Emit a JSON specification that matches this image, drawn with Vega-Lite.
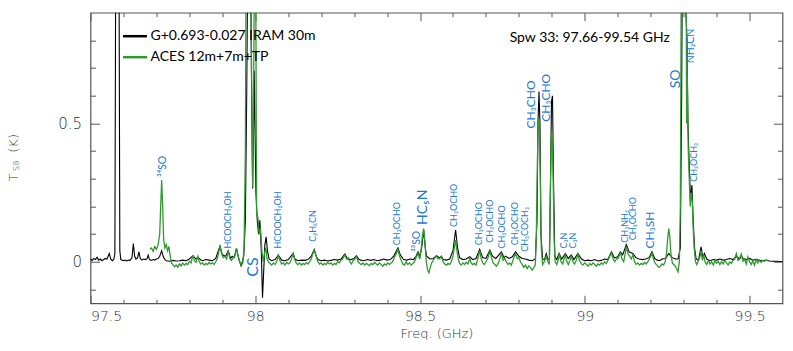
{
  "$schema": "https://vega.github.io/schema/vega-lite/v6.json",
  "width": 692,
  "height": 290.6,
  "autosize": {"type": "none"},
  "padding": {"left": 90.5, "top": 12.7, "right": 10.3, "bottom": 47.7},
  "background": "white",
  "datasets": {
    "iram": [
      {"f":97.500,"t":0.010},{"f":97.505,"t":0.005},{"f":97.510,"t":0.012},{"f":97.515,"t":0.008},{"f":97.520,"t":0.016},{"f":97.525,"t":0.006},{"f":97.530,"t":0.010},{"f":97.535,"t":0.004},{"f":97.540,"t":0.008},{"f":97.545,"t":0.012},{"f":97.550,"t":0.010},{"f":97.557,"t":0.030},{"f":97.562,"t":0.008},{"f":97.567,"t":0.004},{"f":97.571,"t":0.010},{"f":97.574,"t":0.030},{"f":97.577,"t":1.3},{"f":97.586,"t":1.3},{"f":97.589,"t":0.04},{"f":97.592,"t":0.008},{"f":97.600,"t":0.004},{"f":97.605,"t":0.006},{"f":97.610,"t":0.003},{"f":97.615,"t":0.006},{"f":97.620,"t":0.005},{"f":97.626,"t":0.015},{"f":97.630,"t":0.066},{"f":97.634,"t":0.020},{"f":97.638,"t":0.010},{"f":97.643,"t":0.015},{"f":97.647,"t":0.036},{"f":97.651,"t":0.012},{"f":97.656,"t":0.006},{"f":97.661,"t":0.010},{"f":97.667,"t":0.008},{"f":97.672,"t":0.012},{"f":97.675,"t":0.024},{"f":97.679,"t":0.008},{"f":97.685,"t":0.005},{"f":97.690,"t":0.008},{"f":97.695,"t":0.006},{"f":97.700,"t":0.010},{"f":97.705,"t":0.012},{"f":97.710,"t":0.020},{"f":97.716,"t":0.040},{"f":97.721,"t":0.018},{"f":97.726,"t":0.008},{"f":97.730,"t":0.004},{"f":97.740,"t":0.002},{"f":97.750,"t":0.005},{"f":97.760,"t":0.003},{"f":97.770,"t":0.004},{"f":97.780,"t":0.006},{"f":97.790,"t":0.004},{"f":97.800,"t":0.010},{"f":97.811,"t":0.022},{"f":97.820,"t":0.010},{"f":97.826,"t":0.016},{"f":97.835,"t":0.006},{"f":97.840,"t":0.004},{"f":97.850,"t":0.008},{"f":97.860,"t":0.006},{"f":97.870,"t":0.004},{"f":97.880,"t":0.012},{"f":97.893,"t":0.057},{"f":97.900,"t":0.025},{"f":97.910,"t":0.020},{"f":97.918,"t":0.040},{"f":97.925,"t":0.012},{"f":97.930,"t":0.020},{"f":97.936,"t":0.015},{"f":97.943,"t":0.048},{"f":97.950,"t":0.010},{"f":97.957,"t":-0.015},{"f":97.962,"t":0.005},{"f":97.965,"t":0.02},{"f":97.970,"t":0.15},{"f":97.974,"t":0.6},{"f":97.978,"t":1.2},{"f":97.985,"t":1.2},{"f":97.989,"t":0.6},{"f":97.992,"t":0.265},{"f":97.995,"t":0.5},{"f":97.997,"t":0.69},{"f":97.999,"t":0.5},{"f":98.002,"t":0.25},{"f":98.006,"t":0.15},{"f":98.010,"t":0.10},{"f":98.014,"t":0.15},{"f":98.018,"t":0.05},{"f":98.022,"t":-0.13},{"f":98.025,"t":-0.05},{"f":98.029,"t":0.06},{"f":98.033,"t":0.09},{"f":98.037,"t":0.04},{"f":98.042,"t":0.01},{"f":98.050,"t":0.004},{"f":98.060,"t":0.008},{"f":98.070,"t":0.024},{"f":98.080,"t":0.006},{"f":98.090,"t":0.004},{"f":98.100,"t":0.008},{"f":98.115,"t":0.030},{"f":98.120,"t":0.010},{"f":98.130,"t":0.004},{"f":98.140,"t":0.006},{"f":98.150,"t":0.005},{"f":98.160,"t":0.008},{"f":98.170,"t":0.020},{"f":98.179,"t":0.045},{"f":98.185,"t":0.020},{"f":98.190,"t":0.008},{"f":98.200,"t":0.004},{"f":98.210,"t":0.006},{"f":98.220,"t":0.003},{"f":98.230,"t":0.005},{"f":98.240,"t":0.008},{"f":98.250,"t":0.006},{"f":98.260,"t":0.010},{"f":98.272,"t":0.028},{"f":98.280,"t":0.010},{"f":98.290,"t":0.008},{"f":98.300,"t":0.012},{"f":98.307,"t":0.022},{"f":98.315,"t":0.008},{"f":98.320,"t":0.006},{"f":98.330,"t":0.004},{"f":98.340,"t":0.008},{"f":98.350,"t":0.005},{"f":98.360,"t":0.008},{"f":98.370,"t":0.004},{"f":98.380,"t":0.006},{"f":98.390,"t":0.010},{"f":98.400,"t":0.006},{"f":98.410,"t":0.008},{"f":98.420,"t":0.020},{"f":98.433,"t":0.050},{"f":98.440,"t":0.025},{"f":98.450,"t":0.008},{"f":98.460,"t":0.006},{"f":98.470,"t":0.010},{"f":98.480,"t":0.008},{"f":98.488,"t":0.020},{"f":98.494,"t":0.036},{"f":98.500,"t":0.020},{"f":98.505,"t":0.050},{"f":98.511,"t":0.115},{"f":98.516,"t":0.050},{"f":98.520,"t":0.020},{"f":98.530,"t":0.010},{"f":98.540,"t":0.012},{"f":98.550,"t":0.022},{"f":98.560,"t":0.014},{"f":98.565,"t":0.020},{"f":98.570,"t":0.008},{"f":98.580,"t":0.006},{"f":98.590,"t":0.010},{"f":98.600,"t":0.040},{"f":98.608,"t":0.115},{"f":98.614,"t":0.050},{"f":98.620,"t":0.015},{"f":98.630,"t":0.008},{"f":98.640,"t":0.010},{"f":98.651,"t":0.018},{"f":98.660,"t":0.008},{"f":98.670,"t":0.012},{"f":98.681,"t":0.045},{"f":98.690,"t":0.015},{"f":98.700,"t":0.012},{"f":98.712,"t":0.042},{"f":98.720,"t":0.020},{"f":98.730,"t":0.012},{"f":98.747,"t":0.036},{"f":98.755,"t":0.015},{"f":98.760,"t":0.020},{"f":98.770,"t":0.012},{"f":98.780,"t":0.018},{"f":98.790,"t":0.036},{"f":98.800,"t":0.020},{"f":98.810,"t":0.012},{"f":98.820,"t":0.010},{"f":98.830,"t":0.006},{"f":98.840,"t":0.004},{"f":98.850,"t":0.010},{"f":98.855,"t":0.15},{"f":98.858,"t":0.5},{"f":98.861,"t":0.615},{"f":98.864,"t":0.5},{"f":98.867,"t":0.1},{"f":98.872,"t":0.010},{"f":98.878,"t":0.008},{"f":98.883,"t":0.030},{"f":98.888,"t":0.008},{"f":98.893,"t":0.010},{"f":98.896,"t":0.3},{"f":98.899,"t":0.58},{"f":98.902,"t":0.6},{"f":98.905,"t":0.3},{"f":98.909,"t":0.020},{"f":98.915,"t":0.008},{"f":98.922,"t":0.030},{"f":98.930,"t":0.010},{"f":98.941,"t":0.030},{"f":98.950,"t":0.012},{"f":98.959,"t":0.025},{"f":98.967,"t":0.008},{"f":98.979,"t":0.030},{"f":98.990,"t":0.010},{"f":99.000,"t":0.004},{"f":99.010,"t":0.006},{"f":99.020,"t":0.004},{"f":99.030,"t":0.008},{"f":99.040,"t":0.003},{"f":99.050,"t":0.005},{"f":99.060,"t":0.010},{"f":99.070,"t":0.008},{"f":99.081,"t":0.036},{"f":99.090,"t":0.014},{"f":99.100,"t":0.018},{"f":99.108,"t":0.036},{"f":99.115,"t":0.025},{"f":99.126,"t":0.062},{"f":99.135,"t":0.035},{"f":99.146,"t":0.030},{"f":99.155,"t":0.015},{"f":99.165,"t":0.010},{"f":99.175,"t":0.008},{"f":99.185,"t":0.010},{"f":99.195,"t":0.015},{"f":99.204,"t":0.036},{"f":99.212,"t":0.012},{"f":99.220,"t":0.006},{"f":99.227,"t":0.004},{"f":99.235,"t":0.010},{"f":99.245,"t":0.012},{"f":99.255,"t":0.030},{"f":99.265,"t":0.015},{"f":99.275,"t":0.010},{"f":99.283,"t":0.010},{"f":99.290,"t":0.05},{"f":99.294,"t":0.6},{"f":99.297,"t":1.3},{"f":99.304,"t":1.3},{"f":99.307,"t":0.9},{"f":99.310,"t":0.81},{"f":99.313,"t":0.5},{"f":99.317,"t":0.35},{"f":99.321,"t":0.22},{"f":99.325,"t":0.277},{"f":99.329,"t":0.15},{"f":99.333,"t":0.05},{"f":99.338,"t":0.010},{"f":99.345,"t":0.005},{"f":99.353,"t":0.054},{"f":99.358,"t":0.015},{"f":99.363,"t":0.030},{"f":99.370,"t":0.010},{"f":99.380,"t":0.004},{"f":99.390,"t":0.008},{"f":99.400,"t":0.006},{"f":99.410,"t":0.010},{"f":99.420,"t":0.006},{"f":99.430,"t":0.008},{"f":99.440,"t":0.012},{"f":99.450,"t":0.008},{"f":99.460,"t":0.020},{"f":99.470,"t":0.010},{"f":99.475,"t":0.022},{"f":99.480,"t":0.012},{"f":99.490,"t":0.008},{"f":99.500,"t":0.012},{"f":99.510,"t":0.006},{"f":99.520,"t":0.008},{"f":99.530,"t":0.005},{"f":99.540,"t":0.004},{"f":99.550,"t":0.006},{"f":99.560,"t":0.003},{"f":99.570,"t":0.002},{"f":99.580,"t":0.002},{"f":99.590,"t":0.001},{"f":99.600,"t":0.001}
    ],
    "aces": [
      {"f":97.680,"t":0.045},{"f":97.685,"t":0.050},{"f":97.690,"t":0.038},{"f":97.695,"t":0.055},{"f":97.700,"t":0.045},{"f":97.705,"t":0.060},{"f":97.710,"t":0.10},{"f":97.713,"t":0.20},{"f":97.716,"t":0.295},{"f":97.719,"t":0.20},{"f":97.722,"t":0.08},{"f":97.726,"t":0.050},{"f":97.730,"t":0.062},{"f":97.734,"t":0.040},{"f":97.738,"t":0.055},{"f":97.742,"t":0.020},{"f":97.746,"t":-0.005},{"f":97.750,"t":-0.010},{"f":97.755,"t":-0.018},{"f":97.760,"t":-0.012},{"f":97.765,"t":-0.020},{"f":97.770,"t":-0.008},{"f":97.775,"t":-0.015},{"f":97.780,"t":-0.005},{"f":97.785,"t":-0.012},{"f":97.790,"t":-0.006},{"f":97.795,"t":-0.010},{"f":97.800,"t":0.002},{"f":97.805,"t":-0.004},{"f":97.811,"t":0.024},{"f":97.815,"t":0.005},{"f":97.820,"t":-0.002},{"f":97.826,"t":0.020},{"f":97.830,"t":0.000},{"f":97.835,"t":-0.008},{"f":97.840,"t":-0.004},{"f":97.845,"t":-0.012},{"f":97.850,"t":-0.006},{"f":97.855,"t":-0.010},{"f":97.860,"t":-0.002},{"f":97.865,"t":-0.008},{"f":97.870,"t":-0.004},{"f":97.875,"t":-0.010},{"f":97.880,"t":0.000},{"f":97.885,"t":0.012},{"f":97.893,"t":0.057},{"f":97.898,"t":0.030},{"f":97.903,"t":0.015},{"f":97.908,"t":0.020},{"f":97.913,"t":0.010},{"f":97.918,"t":0.040},{"f":97.923,"t":0.012},{"f":97.928,"t":0.005},{"f":97.933,"t":0.015},{"f":97.938,"t":0.020},{"f":97.943,"t":0.048},{"f":97.948,"t":0.020},{"f":97.953,"t":0.000},{"f":97.958,"t":-0.012},{"f":97.962,"t":-0.005},{"f":97.966,"t":0.05},{"f":97.970,"t":0.4},{"f":97.973,"t":1.3},{"f":97.984,"t":1.3},{"f":97.988,"t":0.8},{"f":97.992,"t":0.27},{"f":97.995,"t":0.6},{"f":97.998,"t":1.2},{"f":98.001,"t":1.2},{"f":98.004,"t":0.18},{"f":98.008,"t":0.16},{"f":98.012,"t":0.10},{"f":98.016,"t":0.12},{"f":98.020,"t":0.04},{"f":98.024,"t":0.0},{"f":98.028,"t":0.03},{"f":98.032,"t":0.05},{"f":98.036,"t":0.01},{"f":98.040,"t":0.000},{"f":98.045,"t":-0.006},{"f":98.050,"t":-0.012},{"f":98.055,"t":-0.004},{"f":98.060,"t":-0.010},{"f":98.065,"t":0.000},{"f":98.070,"t":0.024},{"f":98.075,"t":0.005},{"f":98.080,"t":-0.008},{"f":98.085,"t":-0.004},{"f":98.090,"t":-0.012},{"f":98.095,"t":-0.002},{"f":98.100,"t":-0.008},{"f":98.105,"t":-0.004},{"f":98.110,"t":0.010},{"f":98.115,"t":0.030},{"f":98.120,"t":0.008},{"f":98.125,"t":-0.006},{"f":98.130,"t":-0.010},{"f":98.135,"t":-0.004},{"f":98.140,"t":-0.012},{"f":98.145,"t":-0.006},{"f":98.150,"t":-0.010},{"f":98.155,"t":-0.003},{"f":98.160,"t":-0.008},{"f":98.165,"t":0.000},{"f":98.170,"t":0.010},{"f":98.175,"t":0.030},{"f":98.179,"t":0.042},{"f":98.185,"t":0.020},{"f":98.190,"t":0.000},{"f":98.195,"t":-0.008},{"f":98.200,"t":-0.004},{"f":98.205,"t":-0.012},{"f":98.210,"t":-0.006},{"f":98.215,"t":-0.010},{"f":98.220,"t":-0.002},{"f":98.225,"t":-0.008},{"f":98.230,"t":-0.004},{"f":98.235,"t":-0.012},{"f":98.240,"t":-0.006},{"f":98.245,"t":-0.010},{"f":98.250,"t":0.000},{"f":98.255,"t":-0.004},{"f":98.260,"t":0.005},{"f":98.265,"t":0.010},{"f":98.272,"t":0.025},{"f":98.277,"t":0.010},{"f":98.282,"t":0.015},{"f":98.287,"t":0.000},{"f":98.292,"t":-0.008},{"f":98.297,"t":0.004},{"f":98.302,"t":0.010},{"f":98.307,"t":0.020},{"f":98.312,"t":0.000},{"f":98.317,"t":-0.006},{"f":98.322,"t":-0.010},{"f":98.327,"t":-0.004},{"f":98.332,"t":-0.012},{"f":98.337,"t":-0.006},{"f":98.342,"t":-0.010},{"f":98.347,"t":-0.014},{"f":98.352,"t":-0.006},{"f":98.357,"t":-0.010},{"f":98.362,"t":-0.002},{"f":98.367,"t":-0.008},{"f":98.372,"t":-0.012},{"f":98.377,"t":-0.004},{"f":98.382,"t":-0.010},{"f":98.387,"t":-0.016},{"f":98.392,"t":-0.008},{"f":98.397,"t":-0.012},{"f":98.402,"t":-0.004},{"f":98.407,"t":-0.010},{"f":98.412,"t":-0.004},{"f":98.417,"t":0.000},{"f":98.422,"t":0.015},{"f":98.428,"t":0.030},{"f":98.433,"t":0.045},{"f":98.438,"t":0.020},{"f":98.443,"t":0.005},{"f":98.448,"t":-0.008},{"f":98.453,"t":-0.012},{"f":98.458,"t":0.000},{"f":98.463,"t":-0.010},{"f":98.468,"t":-0.004},{"f":98.473,"t":-0.012},{"f":98.478,"t":-0.006},{"f":98.483,"t":0.000},{"f":98.488,"t":0.015},{"f":98.494,"t":0.030},{"f":98.499,"t":0.010},{"f":98.503,"t":0.040},{"f":98.507,"t":0.090},{"f":98.511,"t":0.120},{"f":98.515,"t":0.070},{"f":98.519,"t":0.000},{"f":98.523,"t":-0.030},{"f":98.527,"t":-0.040},{"f":98.531,"t":-0.020},{"f":98.535,"t":-0.005},{"f":98.540,"t":0.005},{"f":98.545,"t":0.015},{"f":98.550,"t":0.020},{"f":98.555,"t":0.010},{"f":98.560,"t":0.012},{"f":98.565,"t":0.018},{"f":98.570,"t":0.000},{"f":98.575,"t":-0.008},{"f":98.580,"t":-0.012},{"f":98.585,"t":-0.006},{"f":98.590,"t":-0.010},{"f":98.595,"t":0.000},{"f":98.600,"t":0.020},{"f":98.604,"t":0.050},{"f":98.608,"t":0.078},{"f":98.612,"t":0.040},{"f":98.616,"t":0.010},{"f":98.620,"t":-0.006},{"f":98.625,"t":-0.012},{"f":98.630,"t":-0.004},{"f":98.635,"t":-0.010},{"f":98.640,"t":-0.002},{"f":98.645,"t":-0.008},{"f":98.651,"t":0.012},{"f":98.655,"t":-0.004},{"f":98.660,"t":-0.010},{"f":98.665,"t":-0.006},{"f":98.670,"t":-0.012},{"f":98.675,"t":0.010},{"f":98.681,"t":0.040},{"f":98.686,"t":0.010},{"f":98.690,"t":-0.004},{"f":98.695,"t":-0.010},{"f":98.700,"t":0.000},{"f":98.705,"t":0.010},{"f":98.712,"t":0.038},{"f":98.717,"t":0.015},{"f":98.722,"t":-0.005},{"f":98.727,"t":-0.010},{"f":98.732,"t":-0.016},{"f":98.737,"t":-0.006},{"f":98.742,"t":0.010},{"f":98.747,"t":0.030},{"f":98.752,"t":0.005},{"f":98.757,"t":0.012},{"f":98.762,"t":0.000},{"f":98.767,"t":-0.010},{"f":98.772,"t":-0.004},{"f":98.777,"t":-0.012},{"f":98.782,"t":0.005},{"f":98.786,"t":0.020},{"f":98.790,"t":0.030},{"f":98.795,"t":0.012},{"f":98.800,"t":0.015},{"f":98.805,"t":0.000},{"f":98.810,"t":-0.010},{"f":98.815,"t":-0.020},{"f":98.820,"t":-0.012},{"f":98.825,"t":-0.025},{"f":98.830,"t":-0.015},{"f":98.835,"t":-0.020},{"f":98.840,"t":-0.030},{"f":98.845,"t":-0.022},{"f":98.850,"t":-0.010},{"f":98.853,"t":0.10},{"f":98.856,"t":0.35},{"f":98.859,"t":0.52},{"f":98.862,"t":0.50},{"f":98.865,"t":0.30},{"f":98.868,"t":0.05},{"f":98.872,"t":-0.010},{"f":98.877,"t":0.000},{"f":98.883,"t":0.020},{"f":98.888,"t":0.000},{"f":98.892,"t":-0.010},{"f":98.895,"t":0.20},{"f":98.898,"t":0.42},{"f":98.901,"t":0.475},{"f":98.904,"t":0.30},{"f":98.907,"t":0.08},{"f":98.910,"t":0.000},{"f":98.915,"t":-0.010},{"f":98.920,"t":0.010},{"f":98.923,"t":0.028},{"f":98.928,"t":0.000},{"f":98.933,"t":-0.008},{"f":98.937,"t":0.010},{"f":98.941,"t":0.025},{"f":98.946,"t":0.000},{"f":98.950,"t":-0.010},{"f":98.955,"t":0.005},{"f":98.959,"t":0.020},{"f":98.964,"t":0.000},{"f":98.969,"t":-0.008},{"f":98.974,"t":0.005},{"f":98.979,"t":0.028},{"f":98.984,"t":0.005},{"f":98.989,"t":-0.006},{"f":98.994,"t":-0.012},{"f":99.000,"t":-0.004},{"f":99.005,"t":-0.010},{"f":99.010,"t":-0.016},{"f":99.015,"t":-0.006},{"f":99.020,"t":-0.012},{"f":99.025,"t":-0.004},{"f":99.030,"t":-0.010},{"f":99.035,"t":-0.016},{"f":99.040,"t":-0.008},{"f":99.045,"t":-0.012},{"f":99.050,"t":-0.004},{"f":99.055,"t":-0.010},{"f":99.060,"t":0.000},{"f":99.065,"t":-0.006},{"f":99.070,"t":0.005},{"f":99.076,"t":0.020},{"f":99.081,"t":0.032},{"f":99.086,"t":0.010},{"f":99.091,"t":0.000},{"f":99.096,"t":0.010},{"f":99.101,"t":0.012},{"f":99.108,"t":0.033},{"f":99.113,"t":0.010},{"f":99.118,"t":0.000},{"f":99.122,"t":0.025},{"f":99.126,"t":0.055},{"f":99.131,"t":0.030},{"f":99.136,"t":0.020},{"f":99.141,"t":0.010},{"f":99.146,"t":0.025},{"f":99.151,"t":0.000},{"f":99.156,"t":-0.010},{"f":99.161,"t":-0.004},{"f":99.166,"t":-0.012},{"f":99.171,"t":-0.006},{"f":99.176,"t":-0.010},{"f":99.181,"t":-0.002},{"f":99.186,"t":-0.008},{"f":99.191,"t":0.000},{"f":99.196,"t":0.010},{"f":99.204,"t":0.030},{"f":99.209,"t":0.008},{"f":99.214,"t":-0.006},{"f":99.219,"t":-0.012},{"f":99.224,"t":-0.020},{"f":99.229,"t":-0.016},{"f":99.234,"t":-0.008},{"f":99.239,"t":-0.012},{"f":99.244,"t":0.000},{"f":99.248,"t":0.030},{"f":99.252,"t":0.090},{"f":99.255,"t":0.120},{"f":99.258,"t":0.090},{"f":99.262,"t":0.020},{"f":99.266,"t":-0.005},{"f":99.270,"t":-0.010},{"f":99.274,"t":-0.015},{"f":99.279,"t":-0.025},{"f":99.283,"t":-0.036},{"f":99.287,"t":0.000},{"f":99.290,"t":0.20},{"f":99.292,"t":0.80},{"f":99.294,"t":1.4},{"f":99.306,"t":1.4},{"f":99.308,"t":0.90},{"f":99.309,"t":0.50},{"f":99.310,"t":0.75},{"f":99.312,"t":0.60},{"f":99.314,"t":0.40},{"f":99.317,"t":0.30},{"f":99.320,"t":0.20},{"f":99.323,"t":0.25},{"f":99.326,"t":0.22},{"f":99.329,"t":0.12},{"f":99.332,"t":0.05},{"f":99.336,"t":0.000},{"f":99.340,"t":-0.010},{"f":99.345,"t":0.005},{"f":99.350,"t":0.020},{"f":99.353,"t":0.040},{"f":99.357,"t":0.005},{"f":99.361,"t":0.025},{"f":99.365,"t":0.000},{"f":99.370,"t":-0.010},{"f":99.375,"t":0.005},{"f":99.380,"t":-0.008},{"f":99.385,"t":0.000},{"f":99.390,"t":-0.012},{"f":99.395,"t":0.004},{"f":99.400,"t":-0.006},{"f":99.405,"t":0.002},{"f":99.410,"t":-0.010},{"f":99.415,"t":0.000},{"f":99.420,"t":-0.008},{"f":99.425,"t":0.005},{"f":99.430,"t":-0.004},{"f":99.435,"t":-0.012},{"f":99.440,"t":0.000},{"f":99.445,"t":-0.006},{"f":99.450,"t":0.005},{"f":99.455,"t":0.010},{"f":99.460,"t":0.030},{"f":99.465,"t":0.005},{"f":99.470,"t":0.012},{"f":99.475,"t":0.028},{"f":99.480,"t":0.002},{"f":99.485,"t":0.010},{"f":99.490,"t":-0.008},{"f":99.495,"t":0.018},{"f":99.500,"t":0.000},{"f":99.505,"t":-0.010},{"f":99.510,"t":0.004},{"f":99.515,"t":-0.012},{"f":99.520,"t":0.008},{"f":99.525,"t":-0.004},{"f":99.530,"t":0.006},{"f":99.535,"t":-0.002},{"f":99.540,"t":0.005},{"f":99.545,"t":0.002},{"f":99.550,"t":0.006},{"f":99.555,"t":0.004}
    ],
    "lines": [
      {"f":97.721,"t":0.307,"name":"³⁴SO","tier":"s"},
      {"f":97.916,"t":0.048,"name":"HCOOCH₂OH","tier":"xs"},
      {"f":97.994,"t":-0.054,"name":"CS","tier":"xl"},
      {"f":98.070,"t":0.048,"name":"HCOOCH₂OH","tier":"xs"},
      {"f":98.174,"t":0.072,"name":"C₂H₅CN","tier":"xs"},
      {"f":98.429,"t":0.060,"name":"CH₃OCHO","tier":"xs"},
      {"f":98.491,"t":0.036,"name":"³³SO","tier":"s"},
      {"f":98.509,"t":0.133,"name":"HC₅N","tier":"l"},
      {"f":98.603,"t":0.126,"name":"CH₃OCHO","tier":"xs"},
      {"f":98.678,"t":0.060,"name":"CH₃OCHO","tier":"xs"},
      {"f":98.712,"t":0.069,"name":"CH₃OCHO","tier":"xs"},
      {"f":98.750,"t":0.048,"name":"CH₃OCHO","tier":"xs"},
      {"f":98.789,"t":0.060,"name":"CH₃OCHO","tier":"xs"},
      {"f":98.818,"t":0.036,"name":"CH₃COCH₃","tier":"xs"},
      {"f":98.838,"t":0.482,"name":"CH₃CHO","tier":"m"},
      {"f":98.881,"t":0.506,"name":"CH₃CHO","tier":"m"},
      {"f":98.937,"t":0.048,"name":"C₃N","tier":"xs"},
      {"f":98.964,"t":0.048,"name":"C₃N","tier":"xs"},
      {"f":99.121,"t":0.069,"name":"CH₃NH₂","tier":"xs"},
      {"f":99.146,"t":0.078,"name":"CH₃OCHO","tier":"xs"},
      {"f":99.199,"t":0.048,"name":"CH₃SH","tier":"m"},
      {"f":99.276,"t":0.627,"name":"SO","tier":"l"},
      {"f":99.323,"t":0.717,"name":"NH₂CN","tier":"s"},
      {"f":99.331,"t":0.289,"name":"CH₃OCH₃","tier":"xs"}
    ]
  },
  "resolve": {"axis": {"x": "independent", "y": "independent"}},
  "layer": [
    {
      "data": {"name": "iram"},
      "mark": {"type": "line", "clip": true, "strokeWidth": 1.1},
      "encoding": {
        "x": {"field": "f", "type": "quantitative",
              "scale": {"domain": [97.5, 99.6], "nice": false, "zero": false},
              "axis": {"orient": "bottom", "values": [97.5, 98, 98.5, 99, 99.5], "format": "~g", "tickSize": -8, "labelPadding": 14, "labelFontSize": 14, "title": "Freq. (GHz)", "titlePadding": 4}},
        "y": {"field": "t", "type": "quantitative",
              "scale": {"domain": [-0.15, 0.9], "nice": false, "zero": false},
              "axis": {"orient": "left", "values": [0, 0.5], "format": "~g", "tickSize": -9, "labelPadding": 18,
                       "title": "T\u00a0\u00a0\u00a0\u00a0\u00a0(K)", "titleAlign": "left", "titleBaseline": "alphabetic", "titleAngle": 270, "titleX": -73, "titleY": 168}},
        "color": {"datum": "G+0.693-0.027 IRAM 30m",
                  "scale": {"domain": ["G+0.693-0.027 IRAM 30m", "ACES 12m+7m+TP"], "range": ["#000000", "#2e9a2e"]},
                  "legend": {"orient": "none", "legendX": 31, "legendY": 10, "title": null, "symbolType": "stroke", "symbolSize": 576, "symbolStrokeWidth": 2.5, "labelFont": "Lato", "labelFontSize": 14, "labelColor": "#000", "labelOffset": 2, "labelLimit": 0, "rowPadding": 0}}
      }
    },
    {
      "data": {"name": "aces"},
      "mark": {"type": "line", "clip": true, "strokeWidth": 1.3},
      "encoding": {
        "x": {"field": "f", "type": "quantitative",
              "axis": {"orient": "bottom", "values": [97.6,97.7,97.8,97.9,98.1,98.2,98.3,98.4,98.6,98.7,98.8,98.9,99.1,99.2,99.3,99.4], "labels": false, "tickSize": -4, "title": null}},
        "y": {"field": "t", "type": "quantitative",
              "axis": {"orient": "left", "values": [-0.1,0.1,0.2,0.3,0.4,0.6,0.7,0.8], "labels": false, "tickSize": -5, "title": null}},
        "color": {"datum": "ACES 12m+7m+TP"}
      }
    },
    {
      "data": {"name": "lines"},
      "transform": [{"filter": "datum.tier == 'xs'"}],
      "mark": {"type": "text", "angle": 270, "align": "left", "baseline": "middle", "font": "Lato", "fontSize": 9, "color": "#2279cf"},
      "encoding": {
        "x": {"field": "f", "type": "quantitative",
              "axis": {"orient": "top", "values": [97.5, 98, 98.5, 99, 99.5], "labels": false, "tickSize": -8, "title": null}},
        "y": {"field": "t", "type": "quantitative",
              "axis": {"orient": "right", "values": [0, 0.5], "labels": false, "tickSize": -9, "title": null}},
        "text": {"field": "name"}
      }
    },
    {
      "data": {"name": "lines"},
      "transform": [{"filter": "datum.tier == 's'"}],
      "mark": {"type": "text", "angle": 270, "align": "left", "baseline": "middle", "font": "Lato", "fontSize": 10.5, "color": "#2279cf"},
      "encoding": {
        "x": {"field": "f", "type": "quantitative", "axis": null},
        "y": {"field": "t", "type": "quantitative", "axis": null},
        "text": {"field": "name"}
      }
    },
    {
      "data": {"name": "lines"},
      "transform": [{"filter": "datum.tier == 'm'"}],
      "mark": {"type": "text", "angle": 270, "align": "left", "baseline": "middle", "font": "Lato", "fontSize": 12, "color": "#2279cf"},
      "encoding": {
        "x": {"field": "f", "type": "quantitative", "axis": null},
        "y": {"field": "t", "type": "quantitative", "axis": null},
        "text": {"field": "name"}
      }
    },
    {
      "data": {"name": "lines"},
      "transform": [{"filter": "datum.tier == 'l'"}],
      "mark": {"type": "text", "angle": 270, "align": "left", "baseline": "middle", "font": "Lato", "fontSize": 14, "color": "#2279cf"},
      "encoding": {
        "x": {"field": "f", "type": "quantitative", "axis": null},
        "y": {"field": "t", "type": "quantitative", "axis": null},
        "text": {"field": "name"}
      }
    },
    {
      "data": {"name": "lines"},
      "transform": [{"filter": "datum.tier == 'xl'"}],
      "mark": {"type": "text", "angle": 270, "align": "left", "baseline": "middle", "font": "Lato", "fontSize": 16, "color": "#2279cf"},
      "encoding": {
        "x": {"field": "f", "type": "quantitative", "axis": null},
        "y": {"field": "t", "type": "quantitative", "axis": null},
        "text": {"field": "name"}
      }
    },
    {
      "data": {"values": [{}]},
      "mark": {"type": "text", "font": "Lato", "fontSize": 14, "align": "center", "baseline": "middle", "color": "#000"},
      "encoding": {
        "x": {"datum": 99.015, "type": "quantitative",
              "axis": {"orient": "top", "values": [97.6,97.7,97.8,97.9,98.1,98.2,98.3,98.4,98.6,98.7,98.8,98.9,99.1,99.2,99.3,99.4], "labels": false, "tickSize": -4, "title": null}},
        "y": {"datum": 0.81, "type": "quantitative",
              "axis": {"orient": "right", "values": [-0.1,0.1,0.2,0.3,0.4,0.6,0.7,0.8], "labels": false, "tickSize": -5, "title": null}},
        "text": {"value": "Spw 33: 97.66-99.54 GHz"}
      }
    },
    {
      "data": {"values": [{}]},
      "mark": {"type": "text", "font": "DejaVu Sans", "fontWeight": 200, "fontSize": 8, "angle": 270, "align": "left", "baseline": "alphabetic", "color": "#333"},
      "encoding": {
        "x": {"datum": 97.2817, "type": "quantitative", "axis": null},
        "y": {"datum": 0.328, "type": "quantitative", "axis": null},
        "text": {"value": "SB"}
      }
    }
  ],
  "config": {
    "view": {"stroke": "#555", "strokeWidth": 1.2},
    "axis": {"grid": false, "domain": false, "tickColor": "#555", "tickWidth": 1,
             "labelFont": "DejaVu Sans", "labelFontWeight": 200, "labelFontSize": 15, "labelColor": "#333",
             "titleFont": "DejaVu Sans", "titleFontWeight": 200, "titleFontSize": 13, "titleColor": "#333"}
  }
}
